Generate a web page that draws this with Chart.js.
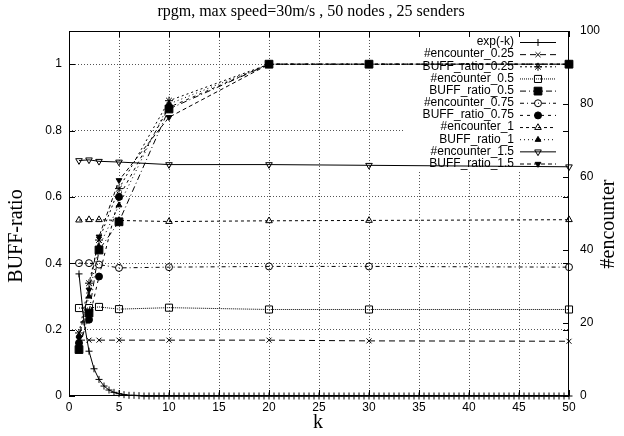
<!DOCTYPE html>
<html>
<head>
<meta charset="utf-8">
<script src="https://cdn.jsdelivr.net/npm/chart.js@4"></script>
<style>
  html, body { margin: 0; padding: 0; background: #fff; }
  #wrap { width: 624px; height: 436px; }
</style>
</head>
<body>
<div id="wrap"><canvas id="bufferChart" width="624" height="436"></canvas></div>
<script>
// k values shared by the measured series
const kVals = [1, 2, 3, 5, 10, 20, 30, 50];

// BUFF-ratio (left axis)
const buff025 = [0.19, 0.34, 0.47, 0.625, 0.89, 1, 1, 1];
const buff05  = [0.14, 0.25, 0.44, 0.525, 0.865, 1, 1, 1];
const buff075 = [0.16, 0.23, 0.36, 0.60, 0.87, 1, 1, 1];
const buff1   = [0.18, 0.30, 0.45, 0.575, 0.88, 1, 1, 1];
const buff15  = [0.175, 0.32, 0.48, 0.65, 0.84, 1, 1, 1];

// #encounter (right axis)
const enc025 = [15.3, 15.3, 15.3, 15.3, 15.3, 15.3, 15.1, 15.0];
const enc05  = [24.1, 24.1, 24.4, 23.8, 24.2, 23.7, 23.7, 23.7];
const enc075 = [36.4, 36.4, 36.0, 35.1, 35.3, 35.5, 35.5, 35.3];
const enc1   = [48.2, 48.3, 48.3, 48.1, 47.8, 48.0, 48.1, 48.3];
const enc15  = [64.5, 64.7, 64.3, 64.1, 63.4, 63.4, 63.2, 62.8];

// exp(-k) curve, sampled every 0.5
const expX = [1, 1.5, 2, 2.5, 3, 3.5, 4, 4.5, 5, 5.5,
  6, 6.5, 7, 7.5, 8, 8.5, 9, 9.5, 10, 10.5,
  11, 11.5, 12, 12.5, 13, 13.5, 14, 14.5, 15, 15.5,
  16, 16.5, 17, 17.5, 18, 18.5, 19, 19.5, 20, 20.5,
  21, 21.5, 22, 22.5, 23, 23.5, 24, 24.5, 25, 25.5,
  26, 26.5, 27, 27.5, 28, 28.5, 29, 29.5, 30, 30.5,
  31, 31.5, 32, 32.5, 33, 33.5, 34, 34.5, 35, 35.5,
  36, 36.5, 37, 37.5, 38, 38.5, 39, 39.5, 40, 40.5,
  41, 41.5, 42, 42.5, 43, 43.5, 44, 44.5, 45, 45.5,
  46, 46.5, 47, 47.5, 48, 48.5, 49, 49.5, 50];
const expY = [0.368, 0.223, 0.135, 0.082, 0.050, 0.030, 0.018, 0.011, 0.007, 0.004,
  0.002, 0.002, 0.001, 0, 0, 0, 0, 0, 0, 0,
  0, 0, 0, 0, 0, 0, 0, 0, 0, 0,
  0, 0, 0, 0, 0, 0, 0, 0, 0, 0,
  0, 0, 0, 0, 0, 0, 0, 0, 0, 0,
  0, 0, 0, 0, 0, 0, 0, 0, 0, 0,
  0, 0, 0, 0, 0, 0, 0, 0, 0, 0,
  0, 0, 0, 0, 0, 0, 0, 0, 0, 0,
  0, 0, 0, 0, 0, 0, 0, 0, 0, 0,
  0, 0, 0, 0, 0, 0, 0, 0, 0];

const TITLE = 'rpgm, max speed=30m/s , 50 nodes , 25 senders';
const SANS = '"Liberation Sans", Arial, Helvetica, sans-serif';
const SERIF = '"Liberation Serif", "Times New Roman", serif';

const pts = (xs, ys) => xs.map((x, i) => ({ x, y: ys[i] }));

function series(label, xs, ys, axis, dash, style, radius, fill, rotation) {
  return {
    label,
    data: pts(xs, ys),
    yAxisID: axis,
    borderColor: '#000',
    borderWidth: 1,
    borderDash: dash,
    pointStyle: style,
    pointRadius: radius,
    pointRotation: rotation || 0,
    pointBorderColor: '#000',
    pointBorderWidth: 1,
    pointBackgroundColor: fill ? '#000' : 'transparent',
    fill: false,
    tension: 0,
    clip: false,
  };
}

const datasets = [
  series('exp(-k)', expX, expY, 'y', [], 'cross', 3.5, false),
  series('#encounter_0.25', kVals, enc025, 'y2', [6, 4], 'crossRot', 3.5, false),
  series('BUFF_ratio_0.25', kVals, buff025, 'y', [2, 3], 'star', 4, false),
  series('#encounter_0.5', kVals, enc05, 'y2', [1, 1], 'rect', 5, false),
  series('BUFF_ratio_0.5', kVals, buff05, 'y', [6, 3, 1, 3], 'rect', 5.5, true),
  series('#encounter_0.75', kVals, enc075, 'y2', [4, 3, 1, 3], 'circle', 3.5, false),
  series('BUFF_ratio_0.75', kVals, buff075, 'y', [3, 4], 'circle', 3.5, true),
  series('#encounter_1', kVals, enc1, 'y2', [3, 3], 'triangle', 3.8, false),
  series('BUFF_ratio_1', kVals, buff1, 'y', [1, 3], 'triangle', 3.3, true),
  series('#encounter_1.5', kVals, enc15, 'y2', [], 'triangle', 3.8, false, 180),
  series('BUFF_ratio_1.5', kVals, buff15, 'y', [4, 3], 'triangle', 3.3, true, 180),
];

// gnuplot-like frame, inward ticks, key box and axis titles
const gnuFrame = {
  id: 'gnuFrame',
  beforeDatasetsDraw(chart) {
    const ctx = chart.ctx;
    ctx.save();
    ctx.fillStyle = '#fff';
    ctx.fillRect(404, 35, 164, 135);
    ctx.font = '12px ' + SANS;
    ctx.textAlign = 'right';
    ctx.textBaseline = 'middle';
    chart.data.datasets.forEach((ds, i) => {
      const y = 42 + i * 12.15;
      ctx.fillStyle = '#000';
      ctx.fillText(ds.label, 514, y);
      ctx.strokeStyle = '#000';
      ctx.lineWidth = 1;
      ctx.setLineDash(ds.borderDash);
      ctx.beginPath();
      ctx.moveTo(520, y + 0.5);
      ctx.lineTo(556, y + 0.5);
      ctx.stroke();
      ctx.setLineDash([]);
      ctx.fillStyle = ds.pointBackgroundColor;
      Chart.helpers.drawPoint(ctx, {
        pointStyle: ds.pointStyle, radius: ds.pointRadius,
        rotation: ds.pointRotation, borderWidth: 1
      }, 538, y + 0.5);
    });
    ctx.restore();
  },
  afterDatasetsDraw(chart) {
    const { ctx, chartArea: a, scales } = chart;
    ctx.save();
    ctx.strokeStyle = '#000';
    ctx.lineWidth = 1;
    ctx.setLineDash([]);
    ctx.strokeRect(a.left + 0.5, a.top + 0.5, a.right - a.left - 1, a.bottom - a.top - 1);
    ctx.beginPath();
    scales.x.ticks.forEach(t => {
      const px = Math.round(scales.x.getPixelForValue(t.value)) + 0.5;
      ctx.moveTo(px, a.top); ctx.lineTo(px, a.top + 6);
      ctx.moveTo(px, a.bottom); ctx.lineTo(px, a.bottom - 6);
    });
    scales.y.ticks.forEach(t => {
      const py = Math.round(scales.y.getPixelForValue(t.value)) + 0.5;
      ctx.moveTo(a.left, py); ctx.lineTo(a.left + 6, py);
      ctx.moveTo(a.right, py); ctx.lineTo(a.right - 6, py);
    });
    scales.y2.ticks.forEach(t => {
      const py = Math.round(scales.y2.getPixelForValue(t.value)) + 0.5;
      ctx.moveTo(a.right, py); ctx.lineTo(a.right - 6, py);
    });
    ctx.stroke();

    ctx.fillStyle = '#000';
    ctx.textAlign = 'center';
    ctx.textBaseline = 'middle';
    ctx.font = '16px ' + SERIF;
    ctx.fillText(TITLE, 311, 12);
    ctx.font = '20px ' + SERIF;
    ctx.fillText('k', 318, 423);
    ctx.save();
    ctx.translate(17, 236);
    ctx.rotate(-Math.PI / 2);
    ctx.fillText('BUFF-ratio', 0, 0);
    ctx.restore();
    ctx.save();
    ctx.translate(609, 224);
    ctx.rotate(-Math.PI / 2);
    ctx.fillText('#encounter', 0, 0);
    ctx.restore();
    ctx.restore();
  }
};

const dotted = [1, 2];
const tickFont = { family: SANS, size: 12 };
const gridGrey = '#555';

new Chart(document.getElementById('bufferChart'), {
  type: 'line',
  data: { datasets },
  options: {
    responsive: false,
    animation: false,
    events: [],
    layout: { padding: { top: 31, left: 0, right: 0, bottom: 0 } },
    plugins: { legend: { display: false }, tooltip: { enabled: false }, title: { display: false } },
    scales: {
      x: {
        type: 'linear', min: 0, max: 50,
        afterFit: s => { s.height = 40; },
        ticks: { stepSize: 5, color: '#000', font: tickFont, padding: 4, maxRotation: 0 },
        grid: {
          drawTicks: false, lineWidth: 1,
          color: c => (c.tick.value > 0 && c.tick.value < 50) ? gridGrey : 'transparent'
        },
        border: { display: false, dash: dotted }
      },
      y: {
        position: 'left', min: 0, max: 1.1,
        afterFit: s => { s.width = 69; },
        afterBuildTicks: s => { s.ticks = s.ticks.filter(t => t.value <= 1.0001); },
        ticks: { stepSize: 0.2, color: '#000', font: tickFont, padding: 7,
          callback: v => String(Math.round(v * 10) / 10) },
        grid: {
          drawTicks: false, lineWidth: 1,
          color: c => c.tick.value > 0.001 ? gridGrey : 'transparent'
        },
        border: { display: false, dash: dotted }
      },
      y2: {
        position: 'right', min: 0, max: 100,
        afterFit: s => { s.width = 55; },
        ticks: { stepSize: 20, color: '#000', font: tickFont, padding: 11 },
        grid: { display: false, drawTicks: false },
        border: { display: false }
      }
    }
  },
  plugins: [gnuFrame]
});
</script>
</body>
</html>
